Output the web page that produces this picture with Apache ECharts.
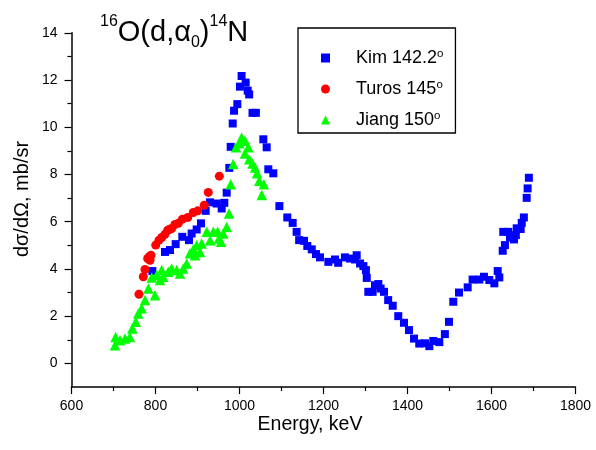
<!DOCTYPE html>
<html>
<head>
<meta charset="utf-8">
<script src="https://cdn.jsdelivr.net/npm/echarts@6/dist/echarts.min.js"></script>
<style>
  html, body { margin: 0; padding: 0; background: #fff; }
  #chart { width: 596px; height: 450px; }
</style>
</head>
<body>
<div id="chart"></div>
<script>
// 16O(d,alpha0)14N differential cross sections, three data sets
const kimEnergy = [792.5, 822.6, 834.5, 848, 863.8, 879.8, 886, 898, 908.3, 919.5, 929.8, 945.7, 957.6, 963.8, 969.5, 975.8, 979, 983.8, 987, 994.8, 1001, 1005, 1014.7, 1019.5, 1023, 1031, 1039, 1056.7, 1064.7, 1068.6, 1080.5, 1095, 1113.8, 1126.6, 1136, 1142, 1153.6, 1161.4, 1172, 1182, 1191.7, 1211.5, 1227.4, 1235, 1251, 1263, 1275, 1279, 1287, 1295, 1301, 1303, 1306.7, 1317, 1322.6, 1330.5, 1336, 1344, 1354, 1364.8, 1378, 1391.7, 1403.6, 1415.5, 1428, 1441.7, 1452, 1461.4, 1475.7, 1489, 1498.8, 1509, 1522.6, 1543.3, 1555, 1571, 1582, 1594.8, 1606.7, 1614.8, 1618.6, 1626.7, 1628, 1632, 1640, 1644, 1653.6, 1658, 1660, 1669.5, 1672, 1677, 1683.8, 1686, 1689];
const kimSigma = [3.91, 4.72, 4.80, 5.05, 5.36, 5.22, 5.50, 5.67, 5.93, 6.46, 6.82, 6.77, 6.56, 6.80, 7.23, 8.28, 9.17, 10.16, 10.70, 10.98, 11.72, 12.17, 11.89, 11.55, 11.39, 10.61, 10.61, 9.49, 9.15, 8.22, 8.05, 6.66, 6.18, 5.95, 5.57, 5.22, 5.19, 4.97, 4.83, 4.63, 4.49, 4.30, 4.40, 4.26, 4.49, 4.44, 4.40, 4.58, 4.23, 4.12, 3.95, 3.62, 3.03, 3.03, 3.31, 3.36, 3.17, 3.03, 2.68, 2.44, 2.00, 1.72, 1.41, 1.05, 0.84, 0.85, 0.73, 0.95, 0.90, 1.24, 1.76, 2.61, 3.00, 3.22, 3.55, 3.55, 3.67, 3.53, 3.39, 3.91, 3.64, 4.77, 5.57, 5.01, 5.57, 5.33, 5.25, 5.43, 5.72, 5.69, 5.95, 6.18, 7.01, 7.41, 7.86];

const turosEnergy = [760.7, 771, 775, 781.4, 785, 787, 789.3, 800.5, 808.3, 814.8, 822.6, 829, 834, 838.6, 846.4, 854.3, 863.8, 876.7, 890, 900.5, 916, 925.7, 952];
const turosSigma = [2.93, 3.67, 3.98, 4.44, 4.52, 4.37, 4.58, 5.01, 5.22, 5.33, 5.47, 5.64, 5.68, 5.71, 5.88, 5.93, 6.10, 6.18, 6.39, 6.46, 6.70, 7.24, 7.93];

const jiangEnergy = [703.6, 705, 715.5, 727.4, 739, 744.8, 753, 759, 767, 775, 783, 791, 798.8, 802.8, 810.7, 814.8, 818.6, 830.5, 838.5, 850.5, 858.3, 866, 874.3, 882, 890, 894, 898, 906, 910, 922, 930, 937.6, 948, 951, 956, 961, 969.5, 975, 979, 985, 991.7, 999.5, 1005, 1013, 1013, 1021, 1023, 1031, 1037, 1042, 1047, 1053, 1058];
const jiangSigma = [0.77, 1.12, 0.98, 1.05, 1.12, 1.48, 1.76, 2.11, 2.33, 2.68, 3.17, 3.64, 2.89, 3.74, 3.53, 3.95, 3.67, 3.88, 4.02, 3.95, 3.81, 4.02, 4.23, 4.66, 4.83, 4.58, 5.01, 4.72, 5.08, 5.57, 5.22, 5.57, 5.57, 5.29, 5.15, 5.50, 5.78, 6.35, 7.59, 8.44, 9.15, 9.32, 9.57, 9.43, 8.89, 9.15, 8.64, 8.47, 8.30, 8.05, 7.73, 7.13, 7.59];

const seriesNames = ['Kim 142.2', 'Turos 145', 'Jiang 150'];
const yMajorTicks = [0, 2, 4, 6, 8, 10, 12, 14];
const yMinorTicks = [1, 3, 5, 7, 9, 11, 13];

const FONT = '"Liberation Sans", Arial, sans-serif';
const zip = (xs, ys) => xs.map((x, i) => [x, ys[i]]);

const chart = echarts.init(document.getElementById('chart'), null, { renderer: 'canvas' });

chart.setOption({
  animation: false,
  backgroundColor: '#fff',
  grid: { left: 71.5, right: 20.5, top: 32.8, bottom: 63 },
  xAxis: {
    type: 'value',
    min: 600, max: 1800, interval: 200,
    axisLine: { show: true, onZero: false, lineStyle: { color: '#000', width: 1.5 } },
    axisTick: { show: true, length: 7, lineStyle: { color: '#000', width: 1.2 } },
    minorTick: { show: true, splitNumber: 2, length: 4, lineStyle: { color: '#000', width: 1.2 } },
    axisLabel: { color: '#000', fontSize: 14, fontFamily: FONT, margin: 12, formatter: v => String(v) },
    splitLine: { show: false }
  },
  yAxis: [
    {
      type: 'value',
      position: 'left',
      min: -1, max: 14,
      axisLine: { show: true, onZero: false, lineStyle: { color: '#000', width: 1.5 } },
      axisTick: { show: true, length: 7, customValues: yMajorTicks, lineStyle: { color: '#000', width: 1.2 } },
      axisLabel: { color: '#000', fontSize: 14, fontFamily: FONT, margin: 14, customValues: yMajorTicks, formatter: v => String(v) },
      splitLine: { show: false }
    },
    {
      type: 'value',
      position: 'left',
      offset: 0,
      min: -1, max: 14,
      axisLine: { show: false },
      axisTick: { show: true, length: 4, customValues: yMinorTicks, lineStyle: { color: '#000', width: 1.2 } },
      axisLabel: { show: false },
      splitLine: { show: false }
    }
  ],
  legend: {
    left: 298, top: 28,
    orient: 'vertical',
    padding: [20, 12, 3, 23],
    itemWidth: 9, itemHeight: 9, itemGap: 11,
    borderColor: '#000', borderWidth: 1.3,
    data: seriesNames,
    formatter: name => '{g| }' + name + '{sup|o}',
    textStyle: {
      fontSize: 18, fontFamily: FONT, color: '#000', lineHeight: 20,
      rich: {
        g: { width: 21, fontSize: 18, fontFamily: FONT },
        sup: { fontSize: 11.5, fontFamily: FONT, color: '#000', verticalAlign: 'top' }
      }
    }
  },
  graphic: [
    {
      type: 'text',
      left: 100, top: 14,
      style: {
        text: '{sup|16}{m|O(d,α}{sub|0}{m|)}{sup|14}{m|N}',
        fill: '#000',
        rich: {
          m: { fontSize: 29, fontFamily: FONT, lineHeight: 37, fill: '#000' },
          sup: { fontSize: 16, fontFamily: FONT, verticalAlign: 'top', fill: '#000' },
          sub: { fontSize: 16, fontFamily: FONT, verticalAlign: 'bottom', fill: '#000' }
        }
      }
    },
    {
      type: 'text',
      x: 310, y: 425,
      style: { text: 'Energy, keV', fontSize: 19.5, fontFamily: FONT, fill: '#000', align: 'center', verticalAlign: 'middle' }
    },
    {
      type: 'text',
      x: 22, y: 199,
      rotation: Math.PI / 2,
      style: { text: 'dσ/dΩ, mb/sr', fontSize: 20, fontFamily: FONT, fill: '#000', align: 'center', verticalAlign: 'middle' }
    }
  ],
  series: [
    {
      name: seriesNames[0], type: 'scatter', symbol: 'rect', symbolSize: 8,
      itemStyle: { color: '#0000ff', opacity: 1 },
      data: zip(kimEnergy, kimSigma)
    },
    {
      name: seriesNames[1], type: 'scatter', symbol: 'circle', symbolSize: 9,
      itemStyle: { color: '#ff0000', opacity: 1 },
      data: zip(turosEnergy, turosSigma)
    },
    {
      name: seriesNames[2], type: 'scatter', symbol: 'triangle', symbolSize: 10.5,
      itemStyle: { color: '#00ff00', opacity: 1 },
      data: zip(jiangEnergy, jiangSigma)
    }
  ]
});
</script>
</body>
</html>
